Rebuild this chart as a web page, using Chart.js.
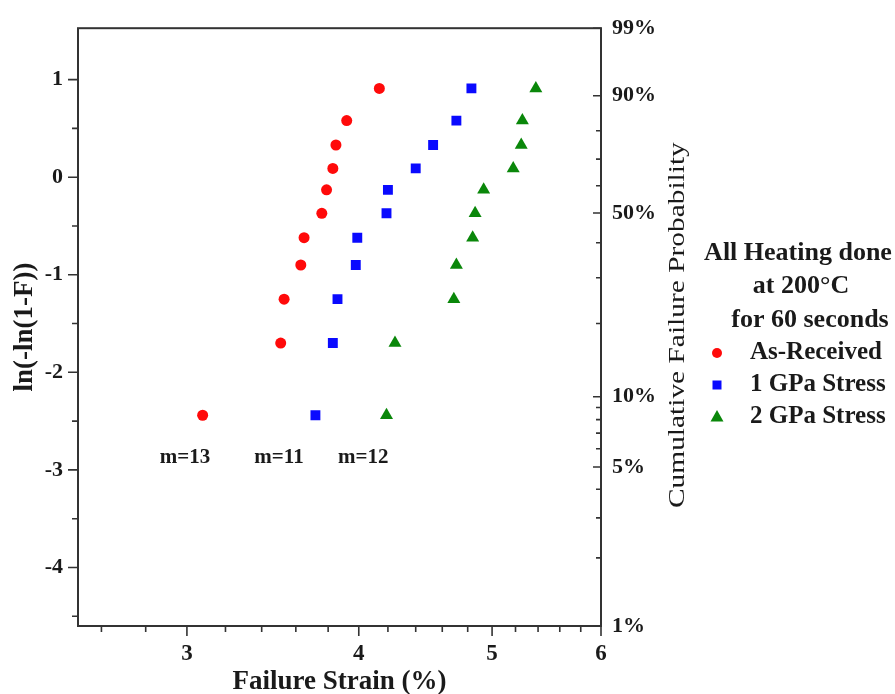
<!DOCTYPE html>
<html>
<head>
<meta charset="utf-8">
<script src="https://cdn.jsdelivr.net/npm/chart.js@4/dist/chart.umd.min.js"></script>
<style>
  html, body { margin: 0; padding: 0; background: #fff; }
  #wrap { width: 895px; height: 694px; }
</style>
</head>
<body>
<div id="wrap"><canvas id="weibull" width="895" height="694"></canvas></div>
<script>
// Weibull plot - failure strain after heating at 200°C

// y = ln(-ln(1-F)) for each rank (shared by the three series)
const rankY = [-2.44, -1.70, -1.25, -0.90, -0.62, -0.37, -0.13, 0.09, 0.33, 0.58, 0.91];

// failure strain (%) per series
const strainAsReceived = [3.08, 3.51, 3.53, 3.63, 3.65, 3.76, 3.79, 3.83, 3.85, 3.92, 4.14];
const strain1GPa = [3.72, 3.83, 3.86, 3.98, 3.99, 4.19, 4.20, 4.40, 4.53, 4.71, 4.83];
const strain2GPa = [4.19, 4.25, 4.69, 4.71, 4.84, 4.86, 4.93, 5.18, 5.25, 5.26, 5.38];

const seriesNames = ['As-Received', '1 GPa Stress', '2 GPa Stress'];

// axes
const xMin = 2.5, xMax = 6;
const yMin = -4.6, yMax = 1.527;
const xMajor = [3, 4, 5, 6];
const xMinor = [2.6, 2.8, 3.2, 3.4, 3.6, 3.8, 4.2, 4.4, 4.6, 4.8, 5.2, 5.4, 5.6, 5.8];
const yMajor = [-4, -3, -2, -1, 0, 1];
const yMinor = [-4.5, -3.5, -2.5, -1.5, -0.5, 0.5];
const probMajor = [1, 5, 10, 50, 90, 99];       // %
const probMinor = [2, 3, 4, 6, 7, 8, 9, 20, 30, 40, 60, 70, 80];

// Weibull modulus labels
const mLabels = ['m=13', 'm=11', 'm=12'];
const mX = [2.99, 3.50, 4.03];
const mY = [-2.87, -2.87, -2.87];

const legendHead = ['All Heating done', 'at 200°C', 'for 60 seconds'];

const SERIF = '"Liberation Serif", "Times New Roman", serif';
const INK = '#1a1a1a';

// probability (%) -> ln(-ln(1-F))
function probToY(p) {
    return Math.log(-Math.log(1 - p / 100));
}

function pts(xs) {
    return xs.map((x, i) => ({ x: x, y: rankY[i] }));
}

const frameAndExtras = {
    id: 'frameAndExtras',
    afterDraw(chart) {
        const ctx = chart.ctx;
        const a = chart.chartArea;
        const sx = chart.scales.x, sy = chart.scales.y;

        ctx.save();
        // frame
        ctx.strokeStyle = '#333';
        ctx.lineWidth = 2;
        ctx.strokeRect(a.left, a.top, a.right - a.left, a.bottom - a.top);

        // tick marks
        ctx.lineWidth = 1.6;
        ctx.beginPath();
        const tickY = (v, len) => { const p = sy.getPixelForValue(v); ctx.moveTo(a.left - len, p); ctx.lineTo(a.left, p); };
        const tickX = (v, len) => { const p = sx.getPixelForValue(v); ctx.moveTo(p, a.bottom); ctx.lineTo(p, a.bottom + len); };
        const tickR = (pr, len) => { const p = sy.getPixelForValue(probToY(pr)); ctx.moveTo(a.right - len, p); ctx.lineTo(a.right, p); };
        yMajor.forEach(v => tickY(v, 10));
        yMinor.forEach(v => tickY(v, 6));
        xMajor.forEach(v => tickX(v, 10));
        xMinor.forEach(v => tickX(v, 6));
        probMajor.forEach(v => tickR(v, 8));
        probMinor.forEach(v => tickR(v, 5));
        ctx.stroke();

        // m= labels
        ctx.fillStyle = INK;
        ctx.font = 'bold 21px ' + SERIF;
        ctx.textAlign = 'center';
        ctx.textBaseline = 'middle';
        mLabels.forEach((t, i) => {
            ctx.fillText(t, sx.getPixelForValue(mX[i]), sy.getPixelForValue(mY[i]));
        });

        // right axis title (condensed)
        ctx.save();
        ctx.translate(678, (a.top + a.bottom) / 2 - 2);
        ctx.rotate(-Math.PI / 2);
        ctx.scale(1.4, 1.05);
        ctx.font = '21px ' + SERIF;
        ctx.fillText('Cumulative Failure Probability', 0, 0);
        ctx.restore();

        // legend
        ctx.font = 'bold 26px ' + SERIF;
        const headX = [798, 801, 810];
        legendHead.forEach((t, i) => ctx.fillText(t, headX[i], 253 + i * 33.5));

        ctx.font = 'bold 25px ' + SERIF;
        ctx.textAlign = 'left';
        chart.data.datasets.forEach((ds, i) => {
            const y = 353 + i * 32;
            const x = 717;
            ctx.fillStyle = ds.backgroundColor;
            ctx.beginPath();
            if (ds.pointStyle === 'circle') {
                ctx.arc(x, y, 5, 0, Math.PI * 2);
            } else if (ds.pointStyle === 'rect') {
                ctx.rect(x - 4.5, y - 4.5, 9, 9);
            } else {
                ctx.moveTo(x, y - 7);
                ctx.lineTo(x + 6.5, y + 4.5);
                ctx.lineTo(x - 6.5, y + 4.5);
                ctx.closePath();
            }
            ctx.fill();
            ctx.fillStyle = INK;
            ctx.fillText(ds.label, 750, y);
        });
        ctx.restore();
    }
};

const ctx = document.getElementById('weibull').getContext('2d');
new Chart(ctx, {
    type: 'scatter',
    data: {
        datasets: [
            {
                label: seriesNames[0], data: pts(strainAsReceived),
                pointStyle: 'circle', pointRadius: 5.5, borderWidth: 0,
                backgroundColor: '#ff0a0a', borderColor: '#ff0a0a'
            },
            {
                label: seriesNames[1], data: pts(strain1GPa),
                pointStyle: 'rect', pointRadius: 7, borderWidth: 0,
                backgroundColor: '#0a0aff', borderColor: '#0a0aff'
            },
            {
                label: seriesNames[2], data: pts(strain2GPa),
                pointStyle: 'triangle', pointRadius: 7.5, borderWidth: 0,
                backgroundColor: '#0a870a', borderColor: '#0a870a'
            }
        ]
    },
    options: {
        responsive: false,
        animation: false,
        layout: { padding: { top: 24, left: 0, right: 0, bottom: 0 } },
        plugins: {
            legend: { display: false },
            tooltip: { enabled: false }
        },
        scales: {
            x: {
                type: 'logarithmic',
                position: 'bottom',
                min: xMin, max: xMax,
                grid: { display: false, drawTicks: false },
                border: { display: false },
                afterBuildTicks: s => { s.ticks = xMajor.map(v => ({ value: v })); },
                afterFit: s => { s.height = 68; },
                ticks: {
                    autoSkip: false, maxRotation: 0, padding: 14, color: INK,
                    font: { family: SERIF, size: 23, weight: 'bold' },
                    callback: v => String(v)
                },
                title: {
                    display: true, text: 'Failure Strain (%)', color: INK,
                    font: { family: SERIF, size: 27, weight: 'bold', lineHeight: 1 },
                    padding: { top: 0, bottom: -2 }
                }
            },
            y: {
                type: 'linear',
                position: 'left',
                min: yMin, max: yMax,
                grid: { display: false, drawTicks: false },
                border: { display: false },
                afterBuildTicks: s => { s.ticks = yMajor.map(v => ({ value: v })); },
                afterFit: s => { s.width = 78; },
                ticks: {
                    autoSkip: false, padding: 15, color: INK,
                    font: { family: SERIF, size: 22, weight: 'bold' },
                    callback: v => String(v)
                },
                title: {
                    display: true, text: 'ln(-ln(1-F))', color: INK,
                    font: { family: SERIF, size: 27, weight: 'bold', lineHeight: 1.2 },
                    padding: { top: 9, bottom: 0 }
                }
            },
            y2: {
                type: 'linear',
                position: 'right',
                min: yMin, max: yMax,
                grid: { display: false, drawTicks: false },
                border: { display: false },
                afterBuildTicks: s => { s.ticks = probMajor.map(p => ({ value: probToY(p) })); },
                afterFit: s => { s.width = 294; },
                ticks: {
                    autoSkip: false, padding: 11, color: INK,
                    font: { family: SERIF, size: 22, weight: 'bold' },
                    callback: (v, i) => probMajor[i] + '%'
                }
            }
        }
    },
    plugins: [frameAndExtras]
});
</script>
</body>
</html>
